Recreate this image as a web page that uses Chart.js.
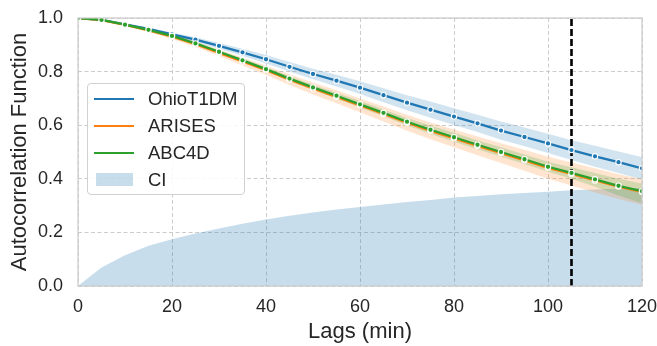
<!DOCTYPE html>
<html>
<head>
<meta charset="utf-8">
<script src="https://cdn.jsdelivr.net/npm/chart.js@4.4.1/dist/chart.umd.min.js"></script>
<style>
  html, body { margin: 0; padding: 0; background: #ffffff; }
  #wrap { position: relative; width: 657px; height: 346px; }
  #c { position: absolute; left: 0; top: 0; }
  #legend {
    position: absolute; left: 87px; top: 83px; width: 158px; height: 112px;
    border: 1px solid #d0d0d0; border-radius: 4px; background: rgba(255,255,255,0.85);
    font-family: "Liberation Sans", Arial, sans-serif; font-size: 18.5px; color: #262626;
    box-sizing: border-box;
  }
  .item { position: absolute; left: 0; height: 22px; width: 100%; }
  .swl { position: absolute; left: 6px; top: 10px; width: 40px; height: 2.4px; }
  .swp { position: absolute; left: 8px; top: 4px; width: 37px; height: 13px; }
  .lbl { position: absolute; left: 60px; top: 0px; line-height: 22px; white-space: nowrap; }
</style>
</head>
<body>
<div id="wrap">
  <canvas id="c" width="657" height="346"></canvas>
  <div id="legend"></div>
</div>
<script>
// ---- data ----
const lags = [0,5,10,15,20,25,30,35,40,45,50,55,60,65,70,75,80,85,90,95,100,105,110,115,120];
const ohioT1DM = [1.000,0.993,0.976,0.959,0.939,0.919,0.896,0.872,0.846,0.818,0.791,0.766,0.740,0.712,0.684,0.658,0.632,0.607,0.580,0.556,0.532,0.507,0.484,0.462,0.439];
const arises   = [1.000,0.992,0.974,0.954,0.930,0.902,0.870,0.838,0.805,0.770,0.737,0.706,0.674,0.642,0.609,0.579,0.551,0.523,0.496,0.469,0.441,0.418,0.394,0.371,0.351];
const abc4d    = [1.000,0.993,0.975,0.956,0.933,0.905,0.874,0.842,0.809,0.774,0.741,0.710,0.678,0.646,0.613,0.583,0.555,0.527,0.500,0.473,0.445,0.422,0.398,0.374,0.354];
const ciBound  = [0.000,0.069,0.115,0.150,0.174,0.196,0.215,0.232,0.248,0.262,0.274,0.285,0.295,0.304,0.313,0.321,0.330,0.336,0.342,0.347,0.352,0.357,0.360,0.363,0.366];
const ohioHalfWidth   = [0,0.001,0.003,0.005,0.007,0.009,0.011,0.013,0.016,0.018,0.020,0.022,0.024,0.026,0.028,0.030,0.031,0.032,0.034,0.035,0.036,0.037,0.039,0.040,0.042];
const arisesHalfWidth = [0,0.001,0.003,0.005,0.008,0.010,0.012,0.015,0.017,0.020,0.022,0.024,0.026,0.028,0.030,0.031,0.033,0.035,0.037,0.039,0.041,0.043,0.045,0.046,0.048];
const abc4dUpWidth    = [0,0.001,0.002,0.003,0.004,0.005,0.006,0.007,0.008,0.009,0.010,0.011,0.012,0.013,0.014,0.016,0.017,0.017,0.018,0.018,0.019,0.021,0.024,0.026,0.028];
const abc4dDownWidth  = [0,0.001,0.002,0.003,0.004,0.005,0.006,0.007,0.008,0.009,0.010,0.011,0.012,0.013,0.014,0.016,0.017,0.017,0.018,0.018,0.019,0.022,0.028,0.036,0.045];
const cutoffLag = 105;
const xTicks = [0,20,40,60,80,100,120];
const yTicks = [0.0,0.2,0.4,0.6,0.8,1.0];
const seriesNames = ["OhioT1DM","ARISES","ABC4D","CI"];

// ---- styling ----
const C_BLUE = "#1f77b4", C_ORANGE = "#ff7f0e", C_GREEN = "#2ca02c";
const FONT = '"Liberation Sans", Arial, sans-serif';
const TXT = "#262626";
const GRID = "#cccccc";

const pts = (ys) => lags.map((x, i) => ({x: x, y: ys[i]}));
const shift = (ys, ws, sgn) => ys.map((v, i) => v + sgn * ws[i]);

function bandPair(upper, lower, color, idxLower, order) {
  return [
    { data: pts(upper), borderWidth: 0, pointRadius: 0, fill: idxLower, backgroundColor: color, order: order },
    { data: pts(lower), borderWidth: 0, pointRadius: 0, fill: false, order: order }
  ];
}
function mainLine(ys, color, order) {
  return { data: pts(ys), borderColor: color, borderWidth: 2.3, pointRadius: 2.7, pointBorderWidth: 1.1,
           pointBackgroundColor: color, pointBorderColor: "#ffffff", fill: false, order: order, tension: 0 };
}

const datasets = [
  { data: pts(ciBound), borderWidth: 0, pointRadius: 0, fill: 'origin', backgroundColor: "rgba(31,119,180,0.25)", order: 20 },
  ...bandPair(shift(ohioT1DM, ohioHalfWidth, 1), shift(ohioT1DM, ohioHalfWidth, -1), "rgba(31,119,180,0.2)", 2, 19),
  ...bandPair(shift(arises, arisesHalfWidth, 1), shift(arises, arisesHalfWidth, -1), "rgba(255,127,14,0.2)", 4, 18),
  ...bandPair(shift(abc4d, abc4dUpWidth, 1), shift(abc4d, abc4dDownWidth, -1), "rgba(44,160,44,0.2)", 6, 17),
  { data: [{x: cutoffLag, y: 0}, {x: cutoffLag, y: 1}], borderColor: "#000000", borderWidth: 2.6,
    borderDash: [7, 3], pointRadius: 0, fill: false, order: 5 },
  mainLine(ohioT1DM, C_BLUE, 3),
  mainLine(arises, C_ORANGE, 2),
  mainLine(abc4d, C_GREEN, 1)
];

const framePlugin = {
  id: 'frame',
  afterDatasetsDraw(chart) {
    const a = chart.chartArea, ctx = chart.ctx;
    ctx.save();
    ctx.strokeStyle = GRID; ctx.lineWidth = 1.25; ctx.setLineDash([]);
    ctx.strokeRect(a.left, a.top, a.right - a.left, a.bottom - a.top);
    ctx.restore();
  }
};

new Chart(document.getElementById('c'), {
  type: 'line',
  data: { datasets: datasets },
  options: {
    responsive: false, animation: false, devicePixelRatio: 1,
    layout: { padding: { left: 0, top: 18, right: 15, bottom: 0 } },
    plugins: { legend: { display: false }, tooltip: { enabled: false } },
    scales: {
      x: {
        type: 'linear', min: 0, max: 120,
        afterBuildTicks: (s) => { s.ticks = xTicks.map(v => ({value: v})); },
        afterFit: (s) => { s.height = 60; s.paddingLeft = 0; s.paddingRight = 0; },
        grid: { color: GRID, lineWidth: 1, drawTicks: false },
        border: { display: false, dash: [4, 2.5] },
        ticks: { color: TXT, font: { family: FONT, size: 18 }, padding: 10, maxRotation: 0 },
        title: { display: true, text: "Lags (min)", color: TXT, font: { family: FONT, size: 22 }, padding: { top: 0, bottom: 1 } }
      },
      y: {
        type: 'linear', min: 0, max: 1,
        afterBuildTicks: (s) => { s.ticks = yTicks.map(v => ({value: v})); },
        afterFit: (s) => { s.width = 78; s.paddingTop = 0; s.paddingBottom = 0; },
        grid: { color: GRID, lineWidth: 1, drawTicks: false },
        border: { display: false, dash: [4, 2.5] },
        ticks: { color: TXT, font: { family: FONT, size: 18 }, padding: 15, callback: (v) => Number(v).toFixed(1) },
        title: { display: true, text: "Autocorrelation Function", color: TXT, font: { family: FONT, size: 22 }, padding: { top: 7, bottom: 0 } }
      }
    }
  },
  plugins: [framePlugin]
});

// legend (HTML text)
const legendColors = [C_BLUE, C_ORANGE, C_GREEN, "rgba(31,119,180,0.25)"];
const lg = document.getElementById('legend');
seriesNames.forEach((name, i) => {
  const it = document.createElement('div');
  it.className = 'item';
  it.style.top = (4 + i * 27) + 'px';
  const sw = document.createElement('div');
  sw.className = i < 3 ? 'swl' : 'swp';
  sw.style.background = legendColors[i];
  const lb = document.createElement('div');
  lb.className = 'lbl';
  lb.textContent = name;
  it.appendChild(sw); it.appendChild(lb);
  lg.appendChild(it);
});
</script>
</body>
</html>
